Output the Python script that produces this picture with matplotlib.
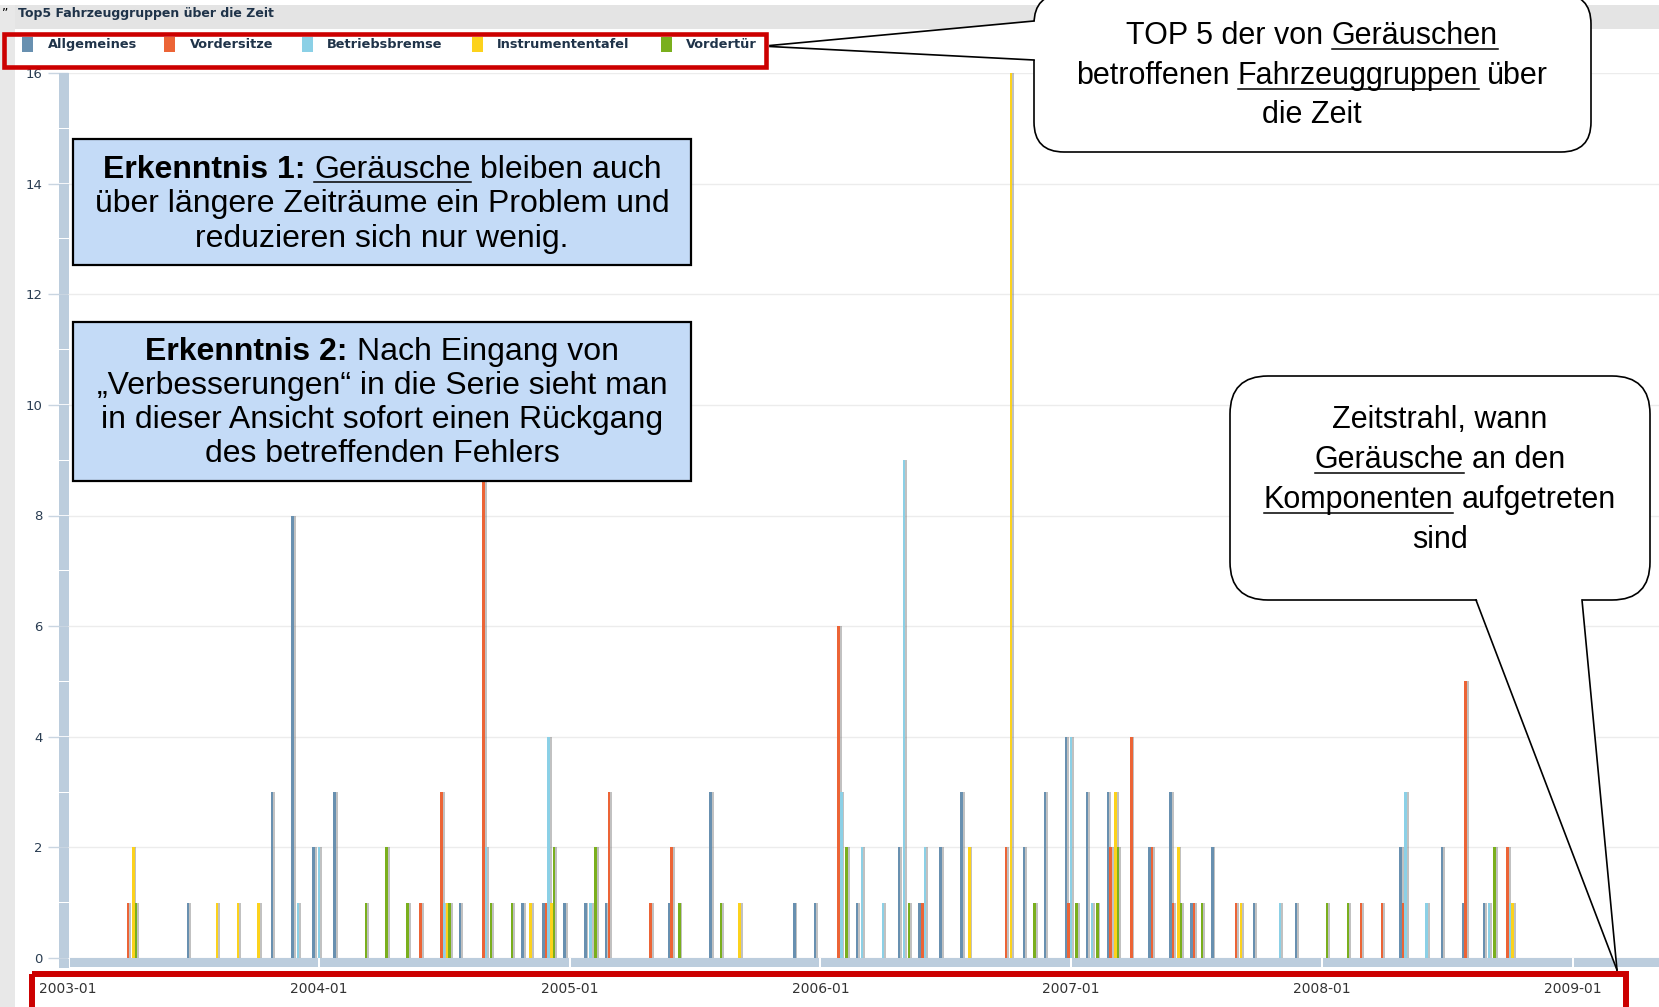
import numpy as np
import matplotlib
matplotlib.use("Agg")
import matplotlib.pyplot as plt
from matplotlib.patches import Rectangle, FancyBboxPatch, Polygon
from matplotlib.transforms import blended_transform_factory
from matplotlib import font_manager as fm

W, H = 1659, 1007

# monthly counts per vehicle group, 2003-01 .. 2008-10
groups = ["Allgemeines", "Vordersitze", "Betriebsbremse", "Instrumententafel", "Vordertür"]
group_colors = ["#6890b0", "#ec6436", "#8bd0e6", "#fcd21c", "#7aaf1d"]

allgemeines = [0, 0, 0, 0, 0, 0, 1, 0, 0, 0, 3, 8,
               2, 3, 0, 0, 0, 0, 0, 1, 0, 0, 1, 1,
               1, 1, 1, 0, 0, 1, 0, 3, 0, 0, 0, 1,
               1, 0, 1, 0, 2, 1, 2, 3, 0, 0, 2, 3,
               4, 3, 3, 0, 2, 3, 1, 2, 0, 1, 0, 1,
               0, 0, 0, 0, 2, 0, 2, 1, 1, 0]
vordersitze = [0, 0, 0, 1, 0, 0, 0, 0, 0, 0, 0, 0,
               0, 0, 0, 0, 0, 1, 3, 0, 9, 0, 0, 1,
               0, 0, 3, 0, 1, 2, 0, 0, 0, 0, 0, 0,
               0, 6, 0, 0, 0, 1, 0, 0, 0, 2, 0, 0,
               1, 0, 2, 4, 2, 1, 1, 0, 1, 0, 0, 0,
               0, 0, 1, 1, 1, 0, 0, 5, 0, 2]
betriebsbremse = [0, 0, 0, 0, 0, 0, 0, 0, 0, 0, 0, 1,
                  2, 0, 0, 0, 0, 0, 1, 0, 2, 0, 0, 4,
                  0, 1, 0, 0, 0, 0, 0, 0, 0, 0, 0, 0,
                  0, 3, 2, 1, 9, 2, 0, 0, 0, 0, 0, 0,
                  4, 1, 0, 0, 0, 0, 0, 0, 0, 0, 1, 0,
                  0, 0, 0, 0, 3, 1, 0, 0, 1, 1]
instrumententafel = [0, 0, 0, 2, 0, 0, 0, 1, 1, 1, 0, 0,
                     0, 0, 0, 0, 0, 0, 1, 0, 0, 0, 1, 1,
                     0, 0, 0, 0, 0, 0, 0, 0, 1, 0, 0, 0,
                     0, 0, 0, 0, 0, 0, 0, 2, 0, 16, 0, 0,
                     0, 0, 3, 0, 0, 2, 0, 0, 1, 0, 0, 0,
                     0, 0, 0, 0, 0, 0, 0, 0, 0, 1]
vordertuer = [0, 0, 0, 1, 0, 0, 0, 0, 0, 0, 0, 0,
              0, 0, 1, 2, 1, 0, 1, 0, 1, 1, 0, 2,
              0, 2, 0, 0, 0, 1, 0, 1, 0, 0, 0, 0,
              0, 2, 0, 0, 1, 0, 0, 0, 0, 0, 1, 0,
              1, 1, 2, 0, 0, 1, 1, 0, 0, 0, 0, 0,
              1, 1, 0, 0, 0, 0, 0, 0, 2, 0]

x_labels = ["2003-01", "2004-01", "2005-01", "2006-01", "2007-01", "2008-01", "2009-01"]
y_ticks = [0, 2, 4, 6, 8, 10, 12, 14, 16]

all_series = [allgemeines, vordersitze, betriebsbremse, instrumententafel, vordertuer]

names = {f.name for f in fm.fontManager.ttflist}
box_font = "Liberation Sans"
if "Liberation Sans Narrow" in names:
    call_font, call_size = "Liberation Sans Narrow", 26.5
else:
    call_font, call_size = "Liberation Sans", 22

fig = plt.figure(figsize=(W / 100, H / 100), dpi=100)

# background frame (pixel coords)
bg = fig.add_axes([0, 0, 1, 1], zorder=0)
bg.set_xlim(0, W)
bg.set_ylim(H, 0)
bg.axis("off")
bg.add_patch(Rectangle((0, 5), W, 24, color="#e4e4e4", lw=0))
bg.add_patch(Rectangle((0, 5), 15, H, color="#e8e8e8", lw=0))
bg.text(18, 13, "Top5 Fahrzeuggruppen über die Zeit", fontsize=9, fontweight="bold",
        color="#1f3349", va="center")
bg.text(2, 0, "„", fontsize=9, color="black", va="top")

# chart
month_px = 20.9
left, top, bottom = 68, 73, 958
ax = fig.add_axes([left / W, (H - bottom) / H, (W - left) / W, (bottom - top) / H], zorder=1)
ax.set_xlim(0, (W - left) / month_px)
ax.set_ylim(0, 16)
for s in ax.spines.values():
    s.set_visible(False)

months = np.arange(len(allgemeines))
offsets = [-0.25, -0.125, 0.0, 0.125, 0.25]
for vals, col, off in zip(all_series, group_colors, offsets):
    vals = np.array(vals)
    ax.bar(months + off + 0.09, vals, width=0.12, color="#666666", alpha=0.4, lw=0, zorder=2)
    ax.bar(months + off, vals, width=0.12, color=col, lw=0, zorder=3)

ax.set_yticks(y_ticks)
ax.yaxis.grid(True, color="#ececec", lw=1)
ax.set_axisbelow(True)
ax.tick_params(axis="y", length=14.4, width=1, color="#c9d5e1", pad=4,
               labelsize=9.5, labelcolor="#2a3d52")
year_pos = np.arange(0, 12 * len(x_labels), 12)
ax.set_xticks(year_pos)
ax.set_xticklabels(x_labels)
ax.tick_params(axis="x", length=0, pad=17, labelsize=10, labelcolor="#333333")

# axis bars
px_y = blended_transform_factory(bg.transData, ax.transData)
px_x = blended_transform_factory(ax.transData, bg.transData)
for k in range(16):
    ax.add_patch(Rectangle((59, k + 0.009), 10, 0.982, transform=px_y, color="#bccddd",
                           lw=0, clip_on=False, zorder=4))
ax.add_patch(Rectangle((59, bottom + 1), 10, 9, transform=bg.transData, color="#bccddd",
                       lw=0, clip_on=False, zorder=4))
xmax = (W - left) / month_px
edges = list(year_pos) + [xmax + 1]
for a, b in zip(edges[:-1], edges[1:]):
    x0 = max(a + 0.05, 0.1)
    ax.add_patch(Rectangle((x0, bottom), b - 0.05 - x0, 9, transform=px_x, color="#bccddd",
                           lw=0, clip_on=False, zorder=4))

# overlay annotations (pixel coords)
fg = fig.add_axes([0, 0, 1, 1], zorder=3)
fg.set_xlim(0, W)
fg.set_ylim(H, 0)
fg.axis("off")
fg.patch.set_alpha(0)

# legend
sq_x = [22, 164, 302, 472, 661]
tx_x = [48, 190, 327, 497, 686]
for name, col, sx, tx in zip(groups, group_colors, sq_x, tx_x):
    fg.add_patch(Rectangle((sx, 37), 11, 15, color=col, lw=0))
    fg.text(tx, 44.5, name, fontsize=9.3, fontweight="bold", color="#1f3349", va="center")

red = "#cc0000"
fg.add_patch(Rectangle((4, 34), 762, 33, fill=False, ec=red, lw=3.3))
fg.add_patch(Rectangle((32, 974), 1594, 60, fill=False, ec=red, lw=4.3, clip_on=False))

renderer = fig.canvas.get_renderer()


def text_w(s, **kw):
    t = fg.text(0, 0, s, **kw)
    w = t.get_window_extent(renderer).width
    t.remove()
    return w


def rich_line(cx, base, segs, size, family, ul_off=4):
    kw = dict(fontsize=size, family=family)
    space = text_w("a a", **kw) - text_w("aa", **kw)
    widths = [text_w(s, fontweight="bold" if b else "normal", **kw) for s, b, u in segs]
    total = sum(widths) + space * (len(segs) - 1)
    x = cx - total / 2
    for (s, b, u), w in zip(segs, widths):
        fg.text(x, base, s, ha="left", va="baseline", color="black",
                fontweight="bold" if b else "normal", zorder=6, **kw)
        if u:
            fg.plot([x, x + w], [base + ul_off, base + ul_off], color="black", lw=1.1, zorder=6)
        x += w + space


# insight boxes
box_fc = "#c4dbf7"
fg.add_patch(Rectangle((73, 139), 618, 126, fc=box_fc, ec="black", lw=1.6, zorder=5))
fg.add_patch(Rectangle((73, 322), 618, 159, fc=box_fc, ec="black", lw=1.6, zorder=5))
bs = 23
rich_line(382, 178, [("Erkenntnis 1:", True, False), ("Geräusche", False, True),
                     ("bleiben auch", False, False)], bs, box_font)
rich_line(382, 212, [("über längere Zeiträume ein Problem und", False, False)], bs, box_font)
rich_line(382, 246.5, [("reduzieren sich nur wenig.", False, False)], bs, box_font)
rich_line(382, 360, [("Erkenntnis 2:", True, False), ("Nach Eingang von", False, False)], bs, box_font)
rich_line(382, 394, [("„Verbesserungen“ in die Serie sieht man", False, False)], bs, box_font)
rich_line(382, 428, [("in dieser Ansicht sofort einen Rückgang", False, False)], bs, box_font)
rich_line(382, 462, [("des betreffenden Fehlers", False, False)], bs, box_font)

# callout 1
fg.add_patch(FancyBboxPatch((1034, -6), 557, 158, boxstyle="round,pad=0,rounding_size=30",
                            fc="white", ec="black", lw=1.2, zorder=5, clip_on=False))
fg.add_patch(Polygon([(1037, 21), (770, 46), (1037, 60)], closed=True, fc="white", lw=0, zorder=5.5))
fg.plot([1034, 770], [21, 45.5], color="black", lw=1.2, zorder=5.6)
fg.plot([1034, 770], [60, 46.5], color="black", lw=1.2, zorder=5.6)
rich_line(1312, 44, [("TOP 5 der von", False, False), ("Geräuschen", False, True)], call_size, call_font, 5)
rich_line(1312, 84, [("betroffenen", False, False), ("Fahrzeuggruppen", False, True),
                     ("über", False, False)], call_size, call_font, 5)
rich_line(1312, 123, [("die Zeit", False, False)], call_size, call_font, 5)

# callout 2
fg.add_patch(FancyBboxPatch((1230, 376), 420, 224, boxstyle="round,pad=0,rounding_size=38",
                            fc="white", ec="black", lw=1.2, zorder=5))
fg.add_patch(Polygon([(1476, 597), (1617, 970), (1582, 597)], closed=True, fc="white", lw=0, zorder=5.5))
fg.plot([1476, 1617], [600, 970], color="black", lw=1.2, zorder=5.6)
fg.plot([1582, 1617], [600, 970], color="black", lw=1.2, zorder=5.6)
rich_line(1440, 428, [("Zeitstrahl, wann", False, False)], call_size, call_font, 5)
rich_line(1440, 468, [("Geräusche", False, True), ("an den", False, False)], call_size, call_font, 5)
rich_line(1440, 508, [("Komponenten", False, True), ("aufgetreten", False, False)], call_size, call_font, 5)
rich_line(1440, 548, [("sind", False, False)], call_size, call_font, 5)

fig.savefig("out.png", dpi=100)
